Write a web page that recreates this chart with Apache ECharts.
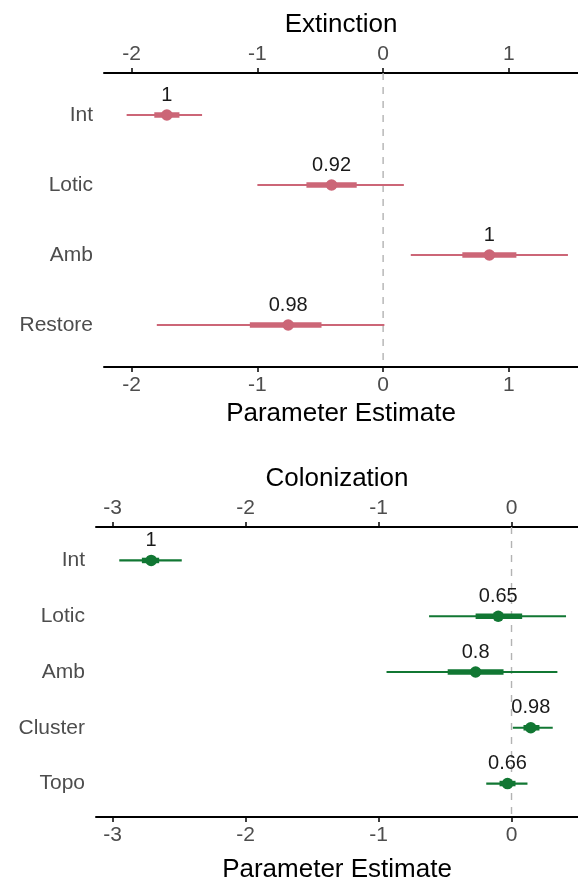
<!DOCTYPE html>
<html>
<head>
<meta charset="utf-8">
<script src="https://cdn.jsdelivr.net/npm/echarts@6/dist/echarts.min.js"></script>
<style>
  html, body { margin: 0; padding: 0; background: #fff; }
  #main { width: 578px; height: 884px; }
</style>
</head>
<body>
<div id="main"></div>
<script>
// Extinction panel
var extCats = ['Int', 'Lotic', 'Amb', 'Restore'];
var extEst = [-1.72, -0.41, 0.845, -0.755];
var extLo95 = [-2.04, -1.0, 0.22, -1.80];
var extHi95 = [-1.44, 0.165, 1.47, 0.01];
var extLo50 = [-1.82, -0.61, 0.63, -1.06];
var extHi50 = [-1.62, -0.21, 1.06, -0.49];
var extProb = ['1', '0.92', '1', '0.98'];
var extTicks = [-2, -1, 0, 1];

// Colonization panel
var colCats = ['Int', 'Lotic', 'Amb', 'Cluster', 'Topo'];
var colEst = [-2.71, -0.10, -0.27, 0.145, -0.03];
var colLo95 = [-2.95, -0.62, -0.94, 0.01, -0.19];
var colHi95 = [-2.48, 0.41, 0.345, 0.31, 0.12];
var colLo50 = [-2.78, -0.27, -0.48, 0.09, -0.09];
var colHi50 = [-2.65, 0.08, -0.06, 0.21, 0.03];
var colProb = ['1', '0.65', '0.8', '0.98', '0.66'];
var colTicks = [-3, -2, -1, 0];

var FONT = '"Liberation Sans", Arial, sans-serif';
var ROSE = '#CC6677';
var GREEN = '#117733';

function buildData(est, lo95, hi95, lo50, hi50) {
    var out = [];
    for (var i = 0; i < est.length; i++) {
        out.push([est[i], i + 1, lo95[i], hi95[i], lo50[i], hi50[i]]);
    }
    return out;
}

function forestItem(color, probs) {
    return function (params, api) {
        var yv = api.value(1);
        var p = api.coord([api.value(0), yv]);
        var a = api.coord([api.value(2), yv]);
        var b = api.coord([api.value(3), yv]);
        var c = api.coord([api.value(4), yv]);
        var d = api.coord([api.value(5), yv]);
        return {
            type: 'group',
            children: [
                { type: 'line', shape: { x1: a[0], y1: a[1], x2: b[0], y2: b[1] }, style: { stroke: color, lineWidth: 2.2 } },
                { type: 'line', shape: { x1: c[0], y1: c[1], x2: d[0], y2: d[1] }, style: { stroke: color, lineWidth: 5.5 } },
                { type: 'circle', shape: { cx: p[0], cy: p[1], r: 5.8 }, style: { fill: color } },
                {
                    type: 'text',
                    style: {
                        text: probs[params.dataIndex], x: p[0], y: p[1] - 20,
                        align: 'center', verticalAlign: 'middle',
                        fill: '#1a1a1a', fontSize: 20, fontFamily: FONT
                    }
                }
            ]
        };
    };
}

function xAxisFor(gridIndex, pos, min, max, ticks, name, gap) {
    return {
        type: 'value', gridIndex: gridIndex, position: pos, min: min, max: max,
        name: name, nameLocation: 'middle', nameGap: gap,
        nameTextStyle: { color: '#000', fontSize: 26, fontFamily: FONT },
        axisLine: { show: true, onZero: false, lineStyle: { color: '#000', width: 2 } },
        axisTick: { show: true, customValues: ticks, length: 5, lineStyle: { color: '#000', width: 1.5 } },
        axisLabel: { customValues: ticks, margin: 8, color: '#4d4d4d', fontSize: 21, fontFamily: FONT },
        splitLine: { show: false }
    };
}

function yAxisFor(gridIndex, cats) {
    var vals = cats.map(function (c, i) { return i + 1; });
    return {
        type: 'value', gridIndex: gridIndex, inverse: true,
        min: 0.4, max: cats.length + 0.6,
        axisLine: { show: false }, axisTick: { show: false }, splitLine: { show: false },
        axisLabel: {
            customValues: vals, margin: 11, color: '#4d4d4d', fontSize: 21, fontFamily: FONT,
            formatter: function (v) { return cats[Math.round(v) - 1] || ''; }
        }
    };
}

function zeroLine(xi, yi, n) {
    return {
        type: 'line', xAxisIndex: xi, yAxisIndex: yi, symbol: 'none', silent: true, z: 1,
        data: [[0, 0.4], [0, n + 0.6]],
        lineStyle: { color: '#b3b3b3', width: 1.4, type: [7, 7] }
    };
}

var chart = echarts.init(document.getElementById('main'));
chart.setOption({
    animation: false,
    grid: [
        { left: 104, right: 0, top: 73, height: 294 },
        { left: 96, right: 0, top: 527, height: 294 }
    ],
    xAxis: [
        xAxisFor(0, 'bottom', -2.22, 1.55, extTicks, 'Parameter Estimate', 34),
        xAxisFor(0, 'top', -2.22, 1.55, extTicks, 'Extinction', 35),
        xAxisFor(1, 'bottom', -3.125, 0.5, colTicks, 'Parameter Estimate', 40),
        xAxisFor(1, 'top', -3.125, 0.5, colTicks, 'Colonization', 35)
    ],
    yAxis: [yAxisFor(0, extCats), yAxisFor(1, colCats)],
    series: [
        zeroLine(0, 0, extCats.length),
        zeroLine(2, 1, colCats.length),
        {
            type: 'custom', xAxisIndex: 0, yAxisIndex: 0, z: 3,
            renderItem: forestItem(ROSE, extProb),
            encode: { x: [0, 2, 3], y: 1 },
            data: buildData(extEst, extLo95, extHi95, extLo50, extHi50)
        },
        {
            type: 'custom', xAxisIndex: 2, yAxisIndex: 1, z: 3,
            renderItem: forestItem(GREEN, colProb),
            encode: { x: [0, 2, 3], y: 1 },
            data: buildData(colEst, colLo95, colHi95, colLo50, colHi50)
        }
    ]
});
</script>
</body>
</html>
